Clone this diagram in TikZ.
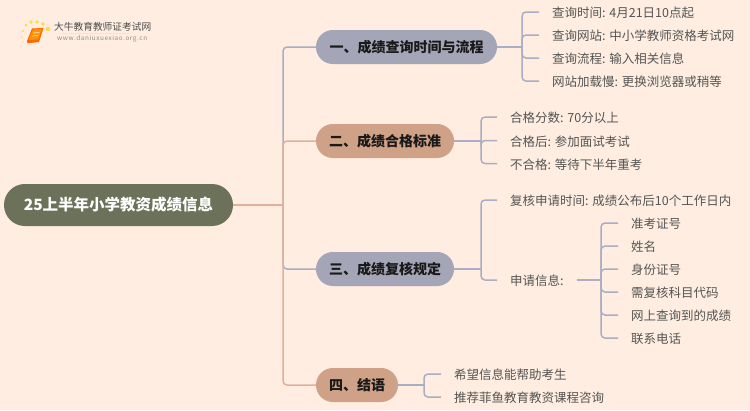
\documentclass[tikz,border=0pt]{standalone}
\usepackage{fontspec}
\setmainfont{Noto Sans CJK SC}
\usetikzlibrary{calc}
\definecolor{bgc}{HTML}{FEEDE0}
\definecolor{bluel}{HTML}{ABADC4}
\definecolor{orangel}{HTML}{E0B199}
\definecolor{bluen}{HTML}{A5A5B8}
\definecolor{orangen}{HTML}{CFA186}
\definecolor{rootc}{HTML}{6B7259}
\definecolor{leaft}{HTML}{555555}
\tikzset{
  x=1pt,y=-1pt,
  rootbox/.style={rectangle,rounded corners=20.9pt,fill=rootc,text=white,minimum height=42pt,minimum width=229pt,inner sep=0pt,font=\fontsize{15.5}{18}\selectfont\bfseries},
  branchbox/.style={rectangle,rounded corners=16.9pt,minimum height=34pt,inner sep=0pt,text=black!90,font=\fontsize{14}{17}\selectfont\bfseries},
  leafbox/.style={anchor=west,inner ysep=1pt,inner xsep=13pt,text height=13.6pt,text depth=2.5pt,text=leaft,font=\fontsize{12.5}{15}\selectfont},
  bl/.style={draw=bluel,line width=1.5pt,rounded corners=4pt},
  ol/.style={draw=orangel,line width=1.5pt,rounded corners=4pt},
}
\begin{document}
\begin{tikzpicture}
\useasboundingbox (0,0) rectangle (750,410);
\fill[bgc] (0,0) rectangle (750,410);
% logo
\foreach \px/\py/\r in {23/42/0.7,22/37/0.9,23/31/1.2,26/25/1.5,31/22/1.8,37/22/1.8,43/24/1.8,48/29/2.3}
  \fill[yellow!75!orange,opacity=.7] (\px,\py) circle (\r);
\fill[orange!80!red] (27,41) -- (32,28.5) -- (43.5,28) -- (39,42) -- (30,43) -- (27.5,43) -- cycle;
\fill[orange!85!yellow] (28.5,40) -- (33,29.5) -- (42,29) -- (38,39.5) -- cycle;
\draw[orange!20!white,line width=.7pt] (33,33) -- (39.5,32.6) (32,36) -- (38.5,35.6);
\node[inner sep=0pt,anchor=west,text=black!70,font=\fontsize{9.7}{11}\selectfont] (logoa) at (54,27) {大牛教育教师证考试网};
\node[inner sep=0pt,anchor=west,text=black!45,font=\fontsize{6.4}{8}\selectfont\addfontfeatures{LetterSpace=9}] (logob) at (57,39) {www.daniuxuexiao.org.cn};
\fill[black!10] (62,33) rectangle (130,33.6);
% nodes
\node[rootbox] (root) at (118.5,205) {25上半年小学教资成绩信息};
\node[branchbox,fill=bluen,minimum width=181pt] (b1) at (406.5,47) {一、成绩查询时间与流程};
\node[branchbox,fill=orangen,minimum width=138pt] (b2) at (385,141) {二、成绩合格标准};
\node[branchbox,fill=bluen,minimum width=138pt] (b3) at (385,269) {三、成绩复核规定};
\node[branchbox,fill=orangen,minimum width=82pt] (b4) at (357,385) {四、结语};
\node[leafbox] (a1) at (539,12) {查询时间: 4月21日10点起};
\node[leafbox] (a2) at (539,35) {查询网站: 中小学教师资格考试网};
\node[leafbox] (a3) at (539,58) {查询流程: 输入相关信息};
\node[leafbox] (a4) at (539,81) {网站加载慢: 更换浏览器或稍等};
\node[leafbox] (c1) at (497,117) {合格分数: 70分以上};
\node[leafbox] (c2) at (497,140.5) {合格后: 参加面试考试};
\node[leafbox] (c3) at (497,163.5) {不合格: 等待下半年重考};
\node[leafbox] (d1) at (497,200) {复核申请时间: 成绩公布后10个工作日内};
\node[leafbox] (d2) at (497,280) {申请信息:};
\node[leafbox] (e1) at (618,223) {准考证号};
\node[leafbox] (e2) at (618,246) {姓名};
\node[leafbox] (e3) at (618,269) {身份证号};
\node[leafbox] (e4) at (618,292) {需复核科目代码};
\node[leafbox] (e5) at (618,315) {网上查询到的成绩};
\node[leafbox] (e6) at (618,338) {联系电话};
\node[leafbox] (f1) at (441,374) {希望信息能帮助考生};
\node[leafbox] (f2) at (441,397) {推荐菲鱼教育教资课程咨询};
% junctions
\coordinate (jr) at (283,205);
\coordinate (j1) at (522,47);
\coordinate (j2) at (481,141);
\coordinate (j3) at (481,269);
\coordinate (j4) at (601,280);
\coordinate (j5) at (424,385);
% main connectors
\draw[bl] (jr) |- (b1.west);
\draw[ol] (jr) |- (b2.west);
\draw[bl] (jr) |- (b3.west);
\draw[ol] (jr) |- (b4.west);
\draw[ol] (root.east) -- (jr);
% sub connectors
\draw[bl] (b1.east) -- (j1);
\foreach \n in {a1,a2,a3,a4} \draw[bl] (j1) |- (\n.west);
\draw[bl] (b2.east) -- (j2);
\foreach \n in {c1,c2,c3} \draw[bl] (j2) |- (\n.west);
\draw[bl] (b3.east) -- (j3);
\foreach \n in {d1,d2} \draw[bl] (j3) |- (\n.west);
\draw[bl] (d2.east) -- (j4);
\foreach \n in {e1,e2,e3,e4,e5,e6} \draw[bl] (j4) |- (\n.west);
\draw[bl] (b4.east) -- (j5);
\foreach \n in {f1,f2} \draw[bl] (j5) |- (\n.west);
\end{tikzpicture}
\end{document}
